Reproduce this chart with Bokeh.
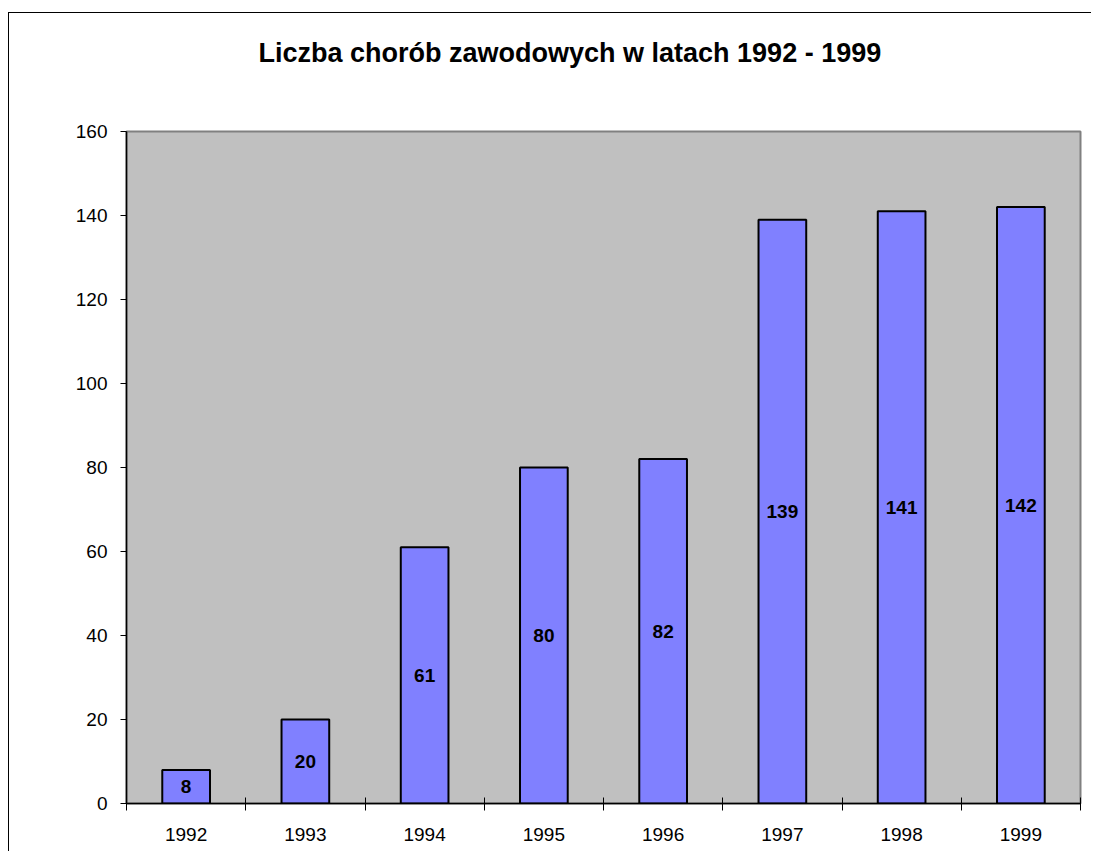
from bokeh.plotting import figure
from bokeh.models import Range1d, FixedTicker, ColumnDataSource, Title
from bokeh.core.properties import value
from bokeh.embed import file_html
from bokeh.resources import INLINE

# ---- data ----
years = ["1992", "1993", "1994", "1995", "1996", "1997", "1998", "1999"]
cases = [8, 20, 61, 80, 82, 139, 141, 142]
y_ticks = [0, 20, 40, 60, 80, 100, 120, 140, 160]
title_text = "Liczba chorób zawodowych w latach 1992 - 1999"

FONT = "Liberation Sans"

x_pos = [i + 0.5 for i in range(len(years))]
src = ColumnDataSource(dict(
    x=x_pos,
    top=cases,
    mid=[c / 2 for c in cases],
    lbl=[str(c) for c in cases],
))

p = figure(
    width=1083, height=839,
    output_backend="svg", toolbar_location=None,
    x_range=Range1d(0, len(years)), y_range=Range1d(0, 160),
    min_border_left=117, min_border_top=118,
    min_border_right=12, min_border_bottom=49,
    title=title_text,
    styles={"border-left": "1px solid black", "border-top": "1px solid black",
            "margin-left": "8px", "margin-top": "12px"},
)
p.background_fill_color = "#C0C0C0"
p.border_fill_color = "white"
p.outline_line_color = "#808080"
p.outline_line_width = 2
p.xgrid.visible = False
p.ygrid.visible = False

p.title.align = "left"
p.title.vertical_align = "bottom"
p.title.offset = 132
p.title.standoff = 0
p.title.text_font = FONT
p.title.text_font_style = "bold"
p.title.text_font_size = "27px"
p.title.text_color = "black"

# invisible spacer between title and plot area
p.add_layout(Title(text=" ", text_font_size="1px", standoff=61,
                   text_color="white"), "above")

p.vbar(x="x", top="top", bottom=0, width=0.4, source=src,
       fill_color="#8080FF", line_color="black", line_width=2)

p.text(x="x", y="mid", text="lbl", source=src,
       text_align="center", text_baseline="middle",
       text_font=value(FONT), text_font_style="bold",
       text_font_size="19px", text_color="black")

# y axis
p.yaxis.ticker = FixedTicker(ticks=y_ticks, minor_ticks=[])
p.yaxis.major_tick_in = 0
p.yaxis.major_tick_out = 6
p.yaxis.minor_tick_line_color = None
p.yaxis.axis_line_color = "black"
p.yaxis.axis_line_width = 1.5
p.yaxis.major_label_text_font = FONT
p.yaxis.major_label_text_font_size = "19px"
p.yaxis.major_label_text_color = "black"
p.yaxis.major_label_standoff = 13

# x axis: labels at centres, ticks at boundaries
p.xaxis.ticker = FixedTicker(ticks=x_pos, minor_ticks=list(range(len(years) + 1)))
p.xaxis.major_label_overrides = {xp: y for xp, y in zip(x_pos, years)}
p.xaxis.major_tick_line_color = None
p.xaxis.major_tick_in = 0
p.xaxis.major_tick_out = 7
p.xaxis.minor_tick_in = 6
p.xaxis.minor_tick_out = 7
p.xaxis.minor_tick_line_color = "black"
p.xaxis.axis_line_color = "black"
p.xaxis.axis_line_width = 1.5
p.xaxis.major_label_text_font = FONT
p.xaxis.major_label_text_font_size = "19px"
p.xaxis.major_label_text_color = "black"
p.xaxis.major_label_standoff = 17

open("out.html", "w").write(file_html(p, INLINE))
